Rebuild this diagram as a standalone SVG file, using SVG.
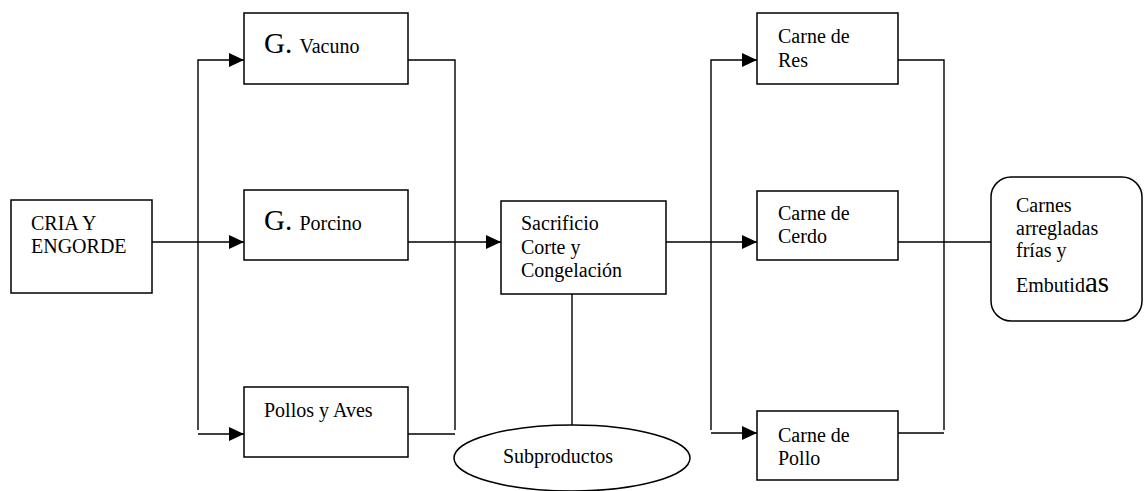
<svg xmlns="http://www.w3.org/2000/svg" width="1145" height="491" viewBox="0 0 1145 491">
<defs>
<marker id="arr" viewBox="0 0 15 14" refX="15" refY="7" markerWidth="15" markerHeight="14" markerUnits="userSpaceOnUse" orient="auto">
<path d="M0,0 L15,7 L0,14 Z" fill="#000"/>
</marker>
</defs>
<style>
.box{fill:#fff;stroke:#000;stroke-width:1.5}
.ln{fill:none;stroke:#000;stroke-width:1.4}
.t{font-family:"Liberation Serif","Times New Roman",serif;font-size:20px;fill:#000}
.big{font-size:29px}
</style>
<rect width="1145" height="491" fill="#fff"/>
<g id="connectors">
<line class="ln" x1="152" y1="242" x2="244" y2="242" marker-end="url(#arr)"/>
<polyline class="ln" points="198,430 198,60 244,60" marker-end="url(#arr)"/>
<line class="ln" x1="198" y1="434" x2="244" y2="434" marker-end="url(#arr)"/>
<polyline class="ln" points="408,60 455,60 455,430"/>
<line class="ln" x1="408" y1="434" x2="455" y2="434"/>
<line class="ln" x1="408" y1="242" x2="501" y2="242" marker-end="url(#arr)"/>
<line class="ln" x1="572" y1="294" x2="572" y2="425"/>
<line class="ln" x1="666" y1="242" x2="757" y2="242" marker-end="url(#arr)"/>
<polyline class="ln" points="711,430 711,60 757,60" marker-end="url(#arr)"/>
<line class="ln" x1="711" y1="433" x2="757" y2="433" marker-end="url(#arr)"/>
<polyline class="ln" points="898,60 944,60 944,430"/>
<line class="ln" x1="898" y1="433" x2="944" y2="433"/>
<line class="ln" x1="898" y1="242" x2="991" y2="242"/>
</g>
<g id="cria">
<rect class="box" x="11" y="200" width="141" height="93"/>
<text class="t" x="31" y="230">CRIA Y</text>
<text class="t" x="31" y="253">ENGORDE</text>
</g>
<g id="vacuno">
<rect class="box" x="244" y="13" width="164" height="71"/>
<text class="t" x="264" y="53"><tspan class="big">G. </tspan>Vacuno</text>
</g>
<g id="porcino">
<rect class="box" x="244" y="190" width="164" height="70"/>
<text class="t" x="264" y="230"><tspan class="big">G. </tspan>Porcino</text>
</g>
<g id="pollos">
<rect class="box" x="244" y="387" width="164" height="70"/>
<text class="t" x="264" y="417">Pollos y Aves</text>
</g>
<g id="sacrificio">
<rect class="box" x="501" y="201" width="165" height="93"/>
<text class="t" x="521" y="230">Sacrificio</text>
<text class="t" x="521" y="254">Corte y</text>
<text class="t" x="521" y="277">Congelación</text>
</g>
<g id="subproductos">
<ellipse class="box" cx="572" cy="458" rx="118" ry="33"/>
<text class="t" x="503" y="463">Subproductos</text>
</g>
<g id="res">
<rect class="box" x="757" y="13" width="141" height="71"/>
<text class="t" x="778" y="43">Carne de</text>
<text class="t" x="778" y="67">Res</text>
</g>
<g id="cerdo">
<rect class="box" x="757" y="191" width="141" height="69"/>
<text class="t" x="778" y="220">Carne de</text>
<text class="t" x="778" y="243">Cerdo</text>
</g>
<g id="pollo">
<rect class="box" x="757" y="411" width="141" height="69"/>
<text class="t" x="778" y="442">Carne de</text>
<text class="t" x="778" y="465">Pollo</text>
</g>
<g id="carnes">
<rect class="box" x="991" y="177" width="151" height="144" rx="20" ry="20"/>
<text class="t" x="1016" y="212">Carnes</text>
<text class="t" x="1016" y="235">arregladas</text>
<text class="t" x="1016" y="257">frías y</text>
<text class="t" x="1016" y="292">Embutid<tspan class="big">as</tspan></text>
</g>
</svg>
